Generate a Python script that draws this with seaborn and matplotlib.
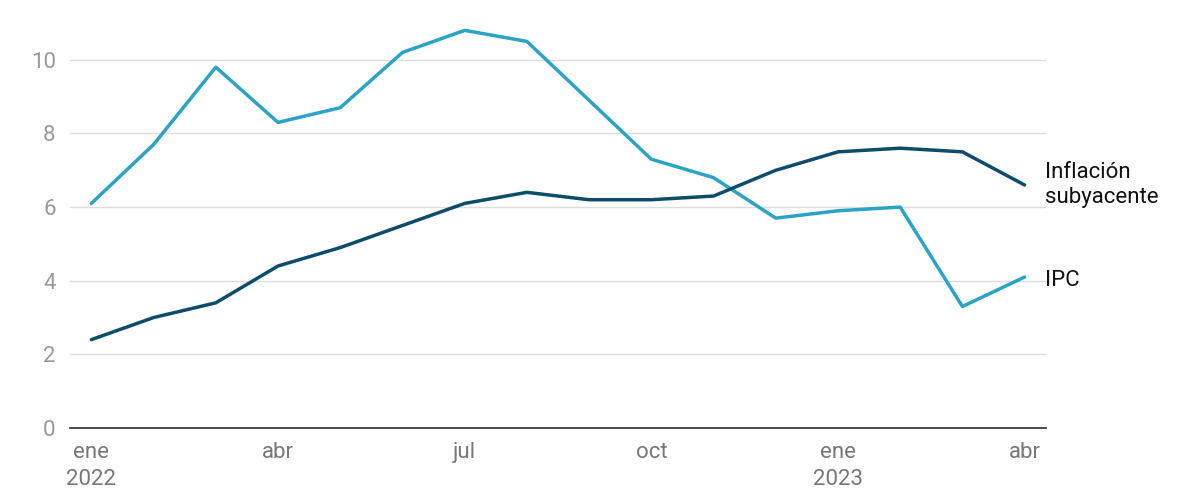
import matplotlib
matplotlib.use("Agg")
import matplotlib.pyplot as plt
import seaborn as sns
import pandas as pd

months = list(range(16))
ipc = [6.1, 7.7, 9.8, 8.3, 8.7, 10.2, 10.8, 10.5, 8.9, 7.3, 6.8, 5.7, 5.9, 6.0, 3.3, 4.1]
core = [2.4, 3.0, 3.4, 4.4, 4.9, 5.5, 6.1, 6.4, 6.2, 6.2, 6.3, 7.0, 7.5, 7.6, 7.5, 6.6]
tick_pos = [0, 3, 6, 9, 12, 15]
tick_labels = ["ene\n2022", "abr", "jul", "oct", "ene\n2023", "abr"]

sns.set_theme(style="white")
plt.rcParams['font.family'] = ['Roboto', 'DejaVu Sans']

df = pd.DataFrame({"m": months * 2, "v": ipc + core,
                   "s": ["IPC"] * 16 + ["Inflación subyacente"] * 16})
fig = plt.figure(figsize=(12, 5), dpi=100)
ax = fig.add_axes([0.058, 0.144, 0.814, 0.81])
sns.lineplot(data=df, x="m", y="v", hue="s",
             palette={"IPC": "#2ba3c7", "Inflación subyacente": "#0d4d6b"},
             linewidth=2.5, legend=False, ax=ax)
ax.set_xlim(-0.35, 15.35)
ax.set_ylim(0, 11)
ax.set_yticks([0, 2, 4, 6, 8, 10])
ax.grid(axis="y", color="#dddddd", linewidth=1)
ax.set_xticks(tick_pos)
ax.set_xticklabels(tick_labels, fontsize=16, color="#777777", linespacing=1.4)
ax.tick_params(axis="y", labelsize=16, labelcolor="#999999", length=0, pad=10)
ax.tick_params(axis="x", length=0, pad=10)
ax.set_xlabel(""); ax.set_ylabel("")
for s in ["top", "right", "left"]:
    ax.spines[s].set_visible(False)
ax.spines["bottom"].set_color("#333333")
ax.text(15.32, 6.6, "Inflación\nsubyacente", fontsize=16, va="center",
        color="#111111", linespacing=1.3)
ax.text(15.32, 4.0, "IPC", fontsize=16, va="center", color="#111111")
fig.savefig("out.png")
